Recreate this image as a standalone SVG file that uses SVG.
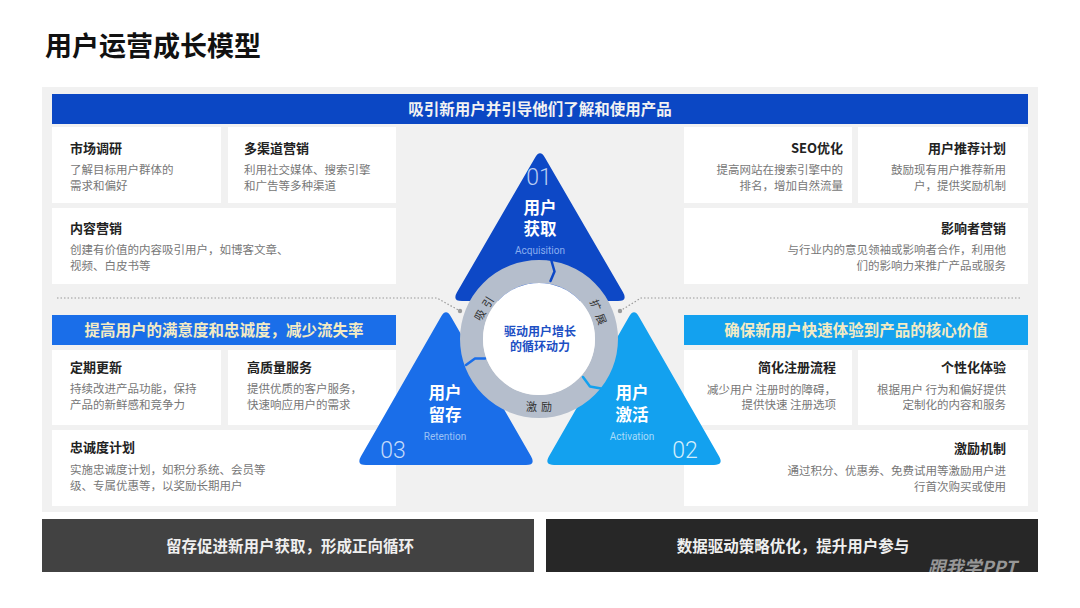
<svg xmlns="http://www.w3.org/2000/svg" width="1080" height="608" viewBox="0 0 1080 608">
<defs>
<style>
text{font-family:"Noto Sans CJK SC","Noto Sans",sans-serif}
.ttl{font-size:13px;font-weight:700;fill:#222}
.dsc{font-size:11.5px;fill:#777}
.card{fill:#fff}
.hd{font-size:15.5px;font-weight:700;text-anchor:middle}
.r{text-anchor:end}
.tn{font-size:16.5px;font-weight:700;fill:#fff;text-anchor:middle}
.en{font-size:10px;text-anchor:middle;font-family:"Roboto","Noto Sans",sans-serif}
.num{font-size:23px;font-weight:300;font-family:"Roboto","Noto Sans",sans-serif;text-anchor:middle}
.dot{stroke:#9a9a9a;stroke-width:1.2;stroke-dasharray:1.5 2;fill:none}
.ring{font-size:11px;fill:#333;text-anchor:middle;letter-spacing:4px}
.sep{fill:none;stroke-width:2.5;stroke-linecap:round;stroke-linejoin:round}
.bt{font-size:15.5px;font-weight:700;fill:#efefef;text-anchor:middle}
.ct{font-size:12px;font-weight:700;fill:#1c4fc4;text-anchor:middle}
</style>
<clipPath id="wm"><rect x="546" y="519" width="492" height="53"/></clipPath>
</defs>
<rect width="1080" height="608" fill="#fff"/>
<text x="45" y="56" font-size="27" font-weight="700" fill="#111">用户运营成长模型</text>
<rect x="42" y="87" width="996" height="425" fill="#f1f1f1"/>

<g id="top-header">
<rect x="52" y="94" width="976" height="30" fill="#0b47c4"/>
<text class="hd" x="540" y="114.5" fill="#f2f2f2">吸引新用户并引导他们了解和使用产品</text>
</g>

<g id="card-market">
<rect class="card" x="52" y="127" width="169" height="76"/>
<text class="ttl" x="70" y="153">市场调研</text>
<text class="dsc" x="70" y="173.5">了解目标用户群体的</text>
<text class="dsc" x="70" y="190">需求和偏好</text>
</g>
<g id="card-multichannel">
<rect class="card" x="228" y="127" width="168" height="76"/>
<text class="ttl" x="244" y="153">多渠道营销</text>
<text class="dsc" x="244" y="173.5">利用社交媒体、搜索引擎</text>
<text class="dsc" x="244" y="190">和广告等多种渠道</text>
</g>
<g id="card-content">
<rect class="card" x="52" y="208" width="344" height="76"/>
<text class="ttl" x="70" y="233">内容营销</text>
<text class="dsc" x="70" y="253.5">创建有价值的内容吸引用户，如博客文章、</text>
<text class="dsc" x="70" y="269.5">视频、白皮书等</text>
</g>
<g id="card-seo">
<rect class="card" x="684" y="127" width="168" height="76"/>
<text class="ttl r" x="843" y="153">SEO优化</text>
<text class="dsc r" x="843" y="173.5">提高网站在搜索引擎中的</text>
<text class="dsc r" x="843" y="190">排名，增加自然流量</text>
</g>
<g id="card-referral">
<rect class="card" x="858" y="127" width="170" height="76"/>
<text class="ttl r" x="1006" y="153">用户推荐计划</text>
<text class="dsc r" x="1006" y="173.5">鼓励现有用户推荐新用</text>
<text class="dsc r" x="1006" y="190">户，提供奖励机制</text>
</g>
<g id="card-influencer">
<rect class="card" x="684" y="208" width="344" height="76"/>
<text class="ttl r" x="1006" y="233">影响者营销</text>
<text class="dsc r" x="1006" y="253.5">与行业内的意见领袖或影响者合作，利用他</text>
<text class="dsc r" x="1006" y="269.5">们的影响力来推广产品或服务</text>
</g>

<g id="left-header">
<rect x="52" y="315" width="344" height="30" fill="#1a6ee9"/>
<text class="hd" x="224" y="335.5" fill="#f3ebc4" font-size="16">提高用户的满意度和忠诚度，减少流失率</text>
</g>
<g id="card-update">
<rect class="card" x="52" y="350" width="169" height="75"/>
<text class="ttl" x="70" y="372">定期更新</text>
<text class="dsc" x="70" y="393">持续改进产品功能，保持</text>
<text class="dsc" x="70" y="408.5">产品的新鲜感和竞争力</text>
</g>
<g id="card-service">
<rect class="card" x="228" y="350" width="168" height="75"/>
<text class="ttl" x="247" y="372">高质量服务</text>
<text class="dsc" x="247" y="393">提供优质的客户服务，</text>
<text class="dsc" x="247" y="408.5">快速响应用户的需求</text>
</g>
<g id="card-loyalty">
<rect class="card" x="52" y="430" width="344" height="76"/>
<text class="ttl" x="70" y="452">忠诚度计划</text>
<text class="dsc" x="70" y="474">实施忠诚度计划，如积分系统、会员等</text>
<text class="dsc" x="70" y="489.5">级、专属优惠等，以奖励长期用户</text>
</g>

<g id="right-header">
<rect x="684" y="315" width="344" height="30" fill="#13a1ef"/>
<text class="hd" x="856" y="335.5" fill="#f3ebc4" font-size="16">确保新用户快速体验到产品的核心价值</text>
</g>
<g id="card-signup">
<rect class="card" x="684" y="350" width="168" height="75"/>
<text class="ttl r" x="836" y="372">简化注册流程</text>
<text class="dsc r" x="836" y="393.5">减少用户 注册时的障碍，</text>
<text class="dsc r" x="836" y="409">提供快速 注册选项</text>
</g>
<g id="card-personal">
<rect class="card" x="858" y="350" width="170" height="75"/>
<text class="ttl r" x="1006" y="372">个性化体验</text>
<text class="dsc r" x="1006" y="393.5">根据用户 行为和偏好提供</text>
<text class="dsc r" x="1006" y="409">定制化的内容和服务</text>
</g>
<g id="card-incentive">
<rect class="card" x="684" y="430" width="344" height="76"/>
<text class="ttl r" x="1006" y="453">激励机制</text>
<text class="dsc r" x="1006" y="475">通过积分、优惠券、免费试用等激励用户进</text>
<text class="dsc r" x="1006" y="491">行首次购买或使用</text>
</g>

<g id="connectors">
<polyline class="dot" points="57,298 437,298 460,311"/>
<polyline class="dot" points="1020,298 641,298 620,311"/>
<circle cx="460" cy="311" r="2.2" fill="#9a9a9a"/>
<circle cx="620" cy="311" r="2.2" fill="#9a9a9a"/>
</g>

<g id="node-acquisition">
<path d="M545,157.66 L623,292.34 Q628,301 618,301 L462,301 Q452,301 457,292.34 L535,157.66 Q540,149 545,157.66 Z" fill="#0d48c6"/>
<text class="num" x="539" y="185" fill="#b9cdf3">01</text>
<text class="tn" x="540" y="213.5">用户<tspan x="540" dy="21">获取</tspan></text>
<text class="en" x="540" y="253.5" fill="#8aaef0">Acquisition</text>
</g>
<g id="node-retention">
<path d="M451,316.66 L531,456.34 Q536,465 526,465 L366,465 Q356,465 361,456.34 L441,316.66 Q446,308 451,316.66 Z" fill="#1a6ee9"/>
<text class="tn" x="445" y="399">用户<tspan x="445" dy="21.5">留存</tspan></text>
<text class="en" x="445" y="440" fill="#9cc2f5">Retention</text>
<text class="num" x="393" y="457.5" fill="#c4dbfa">03</text>
</g>
<g id="node-activation">
<path d="M639,316.66 L719,456.34 Q724,465 714,465 L554,465 Q544,465 549,456.34 L629,316.66 Q634,308 639,316.66 Z" fill="#13a1ef"/>
<text class="tn" x="632" y="399">用户<tspan x="632" dy="21.5">激活</tspan></text>
<text class="en" x="632" y="440" fill="#a8dcfa">Activation</text>
<text class="num" x="685" y="457.5" fill="#d3eefc">02</text>
</g>

<g id="node-cycle">
<circle cx="539" cy="339" r="67.5" fill="none" stroke="#b5becc" stroke-width="23"/>
<polyline class="sep" stroke="#0d48c6" points="551.5,261 554.5,271.5 550.5,281"/>
<polyline class="sep" stroke="#1a6ee9" points="466,365 475,358.5 485,358.5"/>
<polyline class="sep" stroke="#13a1ef" points="583,377 590,386.5 601,388.5"/>
<circle cx="539" cy="339" r="56" fill="#fff"/>
<text class="ring" transform="translate(485,307) rotate(-58)" y="4">吸引</text>
<text class="ring" transform="translate(599,314) rotate(68)" y="4">扩展</text>
<text class="ring" x="541" y="411">激励</text>
<text class="ct" x="540" y="335.5">驱动用户增长<tspan x="540" dy="15.5">的循环动力</tspan></text>
</g>

<g id="bottom-left">
<rect x="42" y="519" width="492" height="53" fill="#424242"/>
<text class="bt" x="290" y="551.5">留存促进新用户获取，形成正向循环</text>
</g>
<g id="bottom-right">
<rect x="546" y="519" width="492" height="53" fill="#272727"/>
<text class="bt" x="793" y="551.5">数据驱动策略优化，提升用户参与</text>
<text x="972" y="574" font-size="18" font-weight="700" font-style="italic" fill="#bdbdbd" opacity="0.75" text-anchor="middle" clip-path="url(#wm)">跟我学PPT</text>
</g>
</svg>
